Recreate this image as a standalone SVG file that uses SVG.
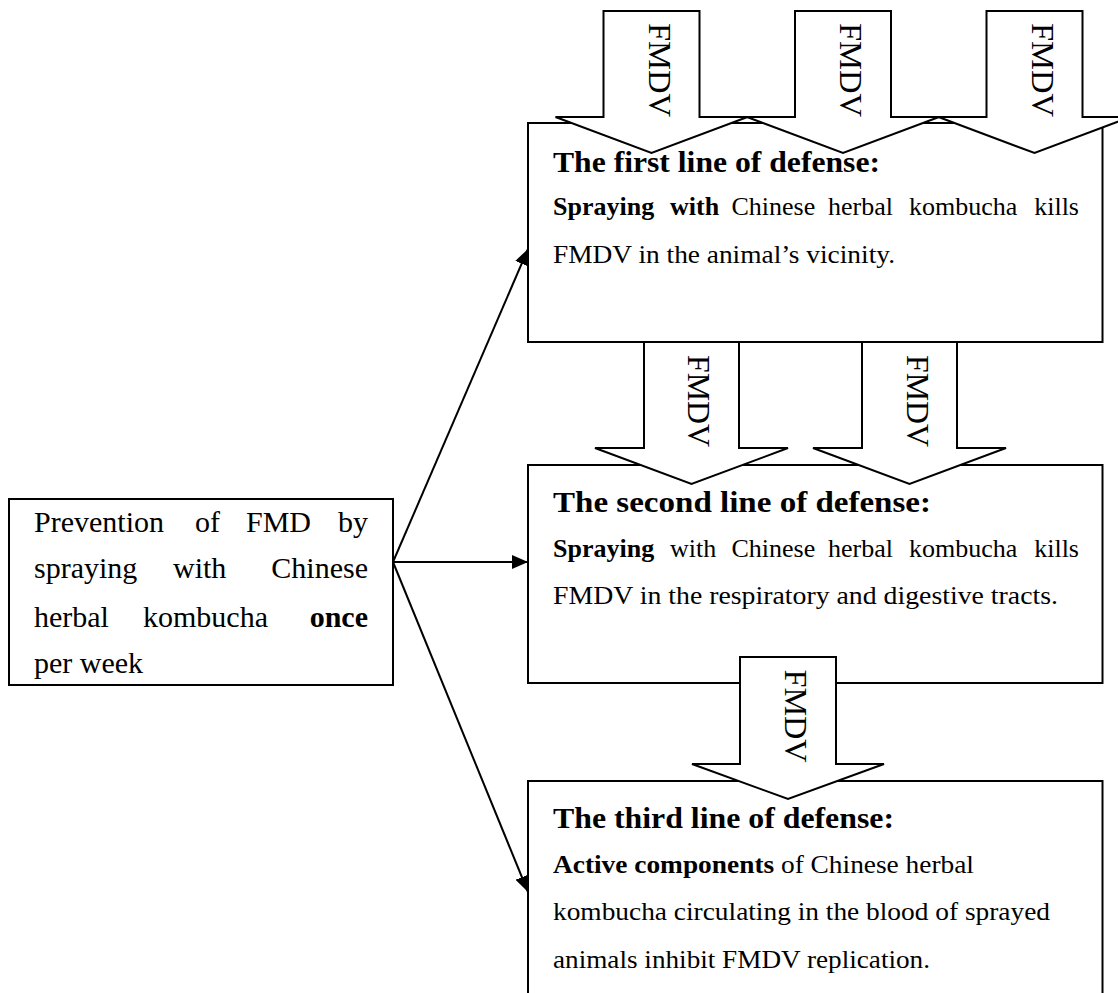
<svg xmlns="http://www.w3.org/2000/svg" width="1118" height="993" viewBox="0 0 1118 993">
<style>
.box{fill:#fff;stroke:#000;stroke-width:2}
.arr{fill:#fff;stroke:#000;stroke-width:2;stroke-linejoin:miter}
.t{font-family:"Liberation Serif","Times New Roman",serif;fill:#000}
.title{font-size:30px;font-weight:bold}
.body{font-size:26px}
.big{font-size:30px}
.b{font-weight:bold}
.lbl{font-size:32px;font-family:"Liberation Serif","Times New Roman",serif;fill:#000}
.conn{stroke:#000;stroke-width:2;fill:none;marker-end:url(#ah)}
</style>
<defs>
<marker id="ah" viewBox="0 0 16 14" refX="16" refY="7" markerWidth="16" markerHeight="14" markerUnits="userSpaceOnUse" orient="auto">
<path d="M0,0 L16,7 L0,14 z" fill="#000"/>
</marker>
</defs>
<rect width="1118" height="993" fill="#fff"/>

<g id="left-box">
<rect class="box" x="9" y="499" width="384" height="186"/>
<text class="t big" y="532"><tspan x="34">Prevention</tspan><tspan x="195">of</tspan><tspan x="246">FMD</tspan><tspan x="368" text-anchor="end">by</tspan></text>
<text class="t big" y="578"><tspan x="34">spraying</tspan><tspan x="173">with</tspan><tspan x="368" text-anchor="end">Chinese</tspan></text>
<text class="t big" y="627"><tspan x="34">herbal</tspan><tspan x="143">kombucha</tspan><tspan x="368" text-anchor="end" class="b">once</tspan></text>
<text class="t big" x="34" y="673">per week</text>
</g>

<g id="box1">
<rect class="box" x="528" y="123" width="574.5" height="219"/>
<text class="t title" x="553" y="172" textLength="327" lengthAdjust="spacingAndGlyphs">The first line of defense:</text>
<text class="t body" y="215"><tspan x="553" class="b">Spraying</tspan><tspan x="670" class="b">with</tspan><tspan x="731.5">Chinese</tspan><tspan x="828">herbal</tspan><tspan x="909">kombucha</tspan><tspan x="1079" text-anchor="end">kills</tspan></text>
<text class="t body" x="553" y="263" textLength="342" lengthAdjust="spacingAndGlyphs">FMDV in the animal’s vicinity.</text>
</g>

<g id="box2">
<rect class="box" x="528" y="465" width="574.5" height="218"/>
<text class="t title" x="553" y="512" textLength="378" lengthAdjust="spacingAndGlyphs">The second line of defense:</text>
<text class="t body" y="557"><tspan x="553" class="b">Spraying</tspan><tspan x="670">with</tspan><tspan x="731.5">Chinese</tspan><tspan x="828">herbal</tspan><tspan x="909">kombucha</tspan><tspan x="1079" text-anchor="end">kills</tspan></text>
<text class="t body" x="553" y="604" textLength="505" lengthAdjust="spacingAndGlyphs">FMDV in the respiratory and digestive tracts.</text>
</g>

<g id="box3">
<rect class="box" x="528" y="781" width="574.5" height="230"/>
<text class="t title" x="553" y="828" textLength="341" lengthAdjust="spacingAndGlyphs">The third line of defense:</text>
<text class="t body" x="553" y="873" textLength="421" lengthAdjust="spacingAndGlyphs"><tspan class="b">Active components</tspan> of Chinese herbal</text>
<text class="t body" x="553" y="920" textLength="497" lengthAdjust="spacingAndGlyphs">kombucha circulating in the blood of sprayed</text>
<text class="t body" x="553" y="968" textLength="377" lengthAdjust="spacingAndGlyphs">animals inhibit FMDV replication.</text>
</g>

<g id="fmdv-arrows">
<g id="arrow-top-1">
<polygon class="arr" points="603.5,11 699.5,11 699.5,117 747.5,117 651.5,153 555.5,117 603.5,117"/>
<text class="lbl" transform="translate(648.5,70) rotate(90)" text-anchor="middle" textLength="94" lengthAdjust="spacingAndGlyphs">FMDV</text>
</g>
<g id="arrow-top-2">
<polygon class="arr" points="795,11 891,11 891,117 939,117 843,153 747,117 795,117"/>
<text class="lbl" transform="translate(840,70) rotate(90)" text-anchor="middle" textLength="94" lengthAdjust="spacingAndGlyphs">FMDV</text>
</g>
<g id="arrow-top-3">
<polygon class="arr" points="986.5,11 1082.5,11 1082.5,117 1130.5,117 1034.5,153 938.5,117 986.5,117"/>
<text class="lbl" transform="translate(1031.5,70) rotate(90)" text-anchor="middle" textLength="94" lengthAdjust="spacingAndGlyphs">FMDV</text>
</g>
<g id="arrow-mid-1">
<polygon class="arr" points="644,342 739,342 739,448 788,448 691.5,484 595,448 644,448"/>
<text class="lbl" transform="translate(688,401) rotate(90)" text-anchor="middle" textLength="92" lengthAdjust="spacingAndGlyphs">FMDV</text>
</g>
<g id="arrow-mid-2">
<polygon class="arr" points="862,342 957,342 957,448 1006,448 909.5,484 813,448 862,448"/>
<text class="lbl" transform="translate(906.5,401) rotate(90)" text-anchor="middle" textLength="92" lengthAdjust="spacingAndGlyphs">FMDV</text>
</g>
<g id="arrow-bottom">
<polygon class="arr" points="740,657 836,657 836,764 884,764 788,799 692,764 740,764"/>
<text class="lbl" transform="translate(785,716) rotate(90)" text-anchor="middle" textLength="93" lengthAdjust="spacingAndGlyphs">FMDV</text>
</g>
</g>

<g id="connectors">
<line class="conn" x1="393" y1="562" x2="528" y2="249"/>
<line class="conn" x1="393" y1="562" x2="528" y2="562"/>
<line class="conn" x1="393" y1="562" x2="528" y2="892"/>
</g>
</svg>
